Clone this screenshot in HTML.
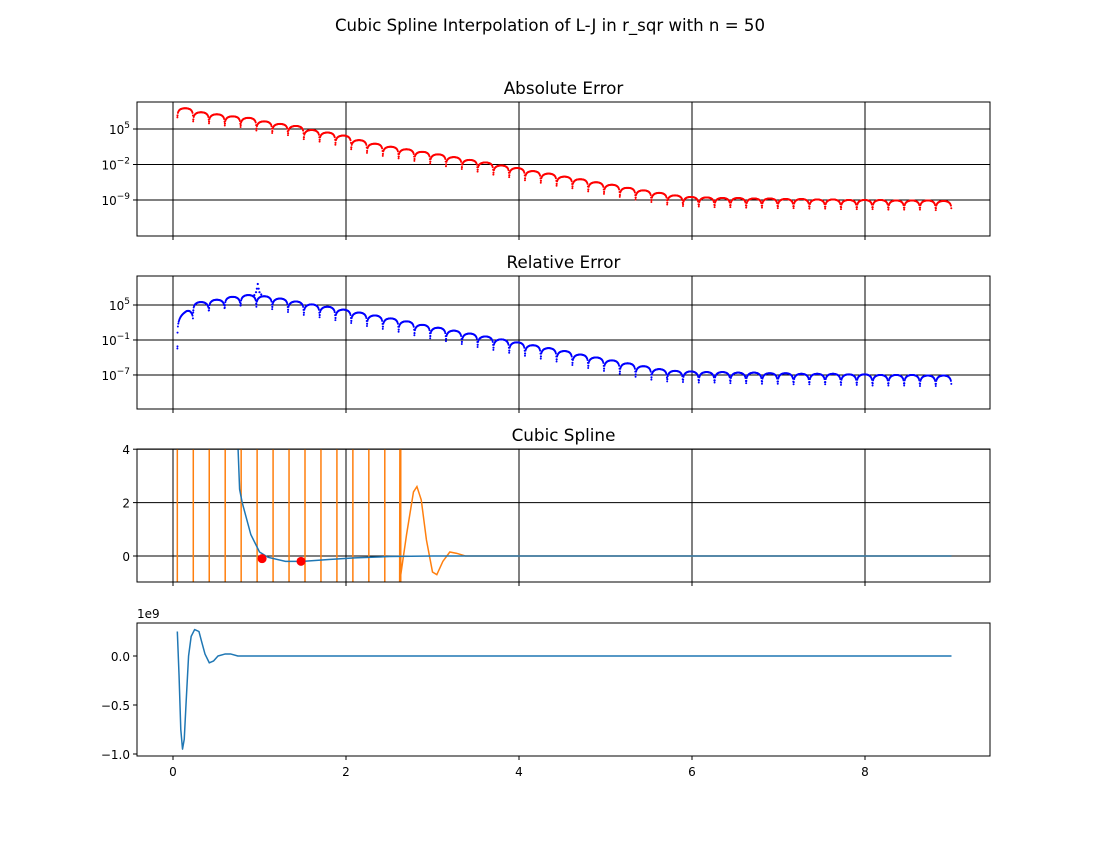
<!DOCTYPE html>
<html><head><meta charset="utf-8"><style>
body{margin:0;background:#fff;font-family:"Liberation Sans","DejaVu Sans",sans-serif}
svg text{font-family:"DejaVu Sans","Liberation Sans",sans-serif}
</style></head><body>
<svg id="c" width="1100" height="850" xmlns="http://www.w3.org/2000/svg">
<rect width="1100" height="850" fill="#fff"/>
<text x="550" y="31" text-anchor="middle" font-size="16.6">Cubic Spline Interpolation of L-J in r_sqr with n = 50</text>
</svg>
<script>
// ---- data ----
const xTicks=[0,2,4,6,8];
const absPeaks=[9.1,8.3,7.9,7.5,7.2,6.5,6.0,5.6,4.8,4.3,3.7,2.8,2.1,1.5,1.0,0.5,0.0,-0.55,-1.1,-1.6,-2.2,-2.7,-3.3,-3.8,-4.4,-4.9,-5.5,-6.0,-6.6,-7.1,-7.6,-8.1,-8.4,-8.5,-8.6,-8.6,-8.7,-8.7,-8.8,-8.8,-8.9,-8.9,-9.0,-9.0,-9.0,-9.1,-9.1,-9.1,-9.2];
const relPeaks=[4.0,5.5,5.9,6.4,6.7,6.5,6.1,5.6,5.1,4.7,4.2,3.7,3.2,2.7,2.2,1.6,1.1,0.6,0.1,-0.4,-0.9,-1.4,-1.9,-2.4,-2.9,-3.5,-4.0,-4.5,-5.0,-5.5,-6.0,-6.3,-6.4,-6.5,-6.5,-6.6,-6.6,-6.7,-6.7,-6.8,-6.8,-6.8,-6.9,-6.9,-7.0,-7.0,-7.0,-7.1,-7.1];
const spikeX=[0.94,0.96,0.97,0.98,0.99,1.0,1.02];
const spikeY=[6.7,7.2,7.8,8.6,7.8,7.2,6.8];
const splineX=[0.75,0.77,0.8,0.9,1.0,1.1,1.3,1.5,1.8,2.1,2.5,3.0,4,6,8,9];
const splineY=[4.2,2.5,2.0,0.8,0.15,-0.05,-0.2,-0.2,-0.13,-0.07,-0.02,0,0,0,0,0];
const orangeX=[2.62,2.7,2.78,2.82,2.87,2.93,3.0,3.05,3.12,3.2,3.28,3.38,3.5,4,6,8,9];
const orangeY=[-1,0.8,2.4,2.6,2.1,0.6,-0.6,-0.7,-0.2,0.15,0.1,0.0,0,0,0,0,0];
const redX=[1.03,1.48];
const redY=[-0.1,-0.2];
const bottomX=[0.05,0.07,0.09,0.11,0.13,0.15,0.18,0.21,0.25,0.3,0.33,0.37,0.42,0.47,0.52,0.6,0.67,0.75,0.85,1.0,1.5,3,6,9];
const bottomY=[0.25,-0.2,-0.75,-0.95,-0.85,-0.5,0.0,0.2,0.27,0.25,0.15,0.02,-0.07,-0.05,0.0,0.02,0.02,0.0,0.0,0.0,0,0,0,0];
// ---- scales ----
const X0=137,X1=990;
const xs=v=>173+v*86.5;
const ns="http://www.w3.org/2000/svg";
const svg=document.getElementById('c');
function mk(tag,attrs,parent){const e=document.createElementNS(ns,tag);for(const k in attrs)e.setAttribute(k,attrs[k]);(parent||svg).appendChild(e);return e;}
const panels=[
 {top:102,bot:236,ys:v=>129-(v-5)*5.07,ticks:[5,-2,-9],title:'Absolute Error',name:'absolute-error'},
 {top:276,bot:409,ys:v=>305-(v-5)*5.83,ticks:[5,-1,-7],title:'Relative Error',name:'relative-error'},
 {top:449,bot:582,ys:v=>556-v*26.7,ticks:[4,2,0],lin:true,title:'Cubic Spline',name:'cubic-spline'},
 {top:623,bot:756,ys:v=>656-v*98,ticks:[0,-0.5,-1.0],lin:true,name:'bottom-panel'}
];
panels.forEach((p,pi)=>{
 const g=mk('g',{});
 
 
 const cid='clip'+pi;
 const cp=mk('clipPath',{id:cid},g);mk('rect',{x:X0,y:p.top,width:X1-X0,height:p.bot-p.top},cp);
 if(p.title){const t=mk('text',{x:(X0+X1)/2,y:p.top-8,'text-anchor':'middle','font-size':16.8},g);t.textContent=p.title;
  }
 if(pi<3){
  xTicks.forEach(v=>{const l=mk('line',{x1:xs(v),x2:xs(v),y1:p.top,y2:p.bot,stroke:'#000','stroke-width':1},g);});
  p.ticks.forEach(v=>{const l=mk('line',{x1:X0,x2:X1,y1:p.ys(v),y2:p.ys(v),stroke:'#000','stroke-width':1},g);});
 }
 xTicks.forEach(v=>mk('line',{x1:xs(v),x2:xs(v),y1:p.bot,y2:p.bot+4,stroke:'#000'},g));
 p.ticks.forEach(v=>{
  mk('line',{x1:X0-4,x2:X0,y1:p.ys(v),y2:p.ys(v),stroke:'#000'},g);
  const t=mk('text',{x:X0-7,y:p.ys(v)+5,'text-anchor':'end','font-size':12},g);
  
  if(p.lin){t.textContent=pi==3?(v==0?'0.0':(v<0?'\u2212':'')+Math.abs(v).toFixed(1)):String(v);}
  else{t.textContent='10';const s=mk('tspan',{dy:-6,'font-size':9},t);s.textContent=(v<0?'\u2212':'')+Math.abs(v);}
 });
 const d=mk('g',{'clip-path':`url(#${cid})`},g);
 if(pi<2){
  const peaks=pi==0?absPeaks:relPeaks;const col=pi==0?'#ff0000':'#0000ff';
  const h=(9-0.05)/peaks.length;
  peaks.forEach((pk,i)=>{
   const n=40;
   for(let j=0;j<n;j++){const t=(j+0.5)/n;const x=0.05+(i+t)*h;
    let v;
    if(pi==1&&i==0) v=pk+2.2*Math.log10(Math.min(1,t*1.6))+1.0*Math.log10(Math.min(1,4*(1-t)));
    else v=pk+1.1*Math.log10(4*t*(1-t));
    mk('circle',{cx:xs(x),cy:p.ys(v),r:1,fill:col},d);}
   [0.004,0.01].forEach(t=>{const x=0.05+(i+t)*h;
    const v=(pi==1&&i==0)?pk-6.7+t*60:pk+1.0*Math.log10(4*t*(1-t));
    mk('circle',{cx:xs(x),cy:p.ys(v),r:1,fill:col},d);});
  });
  if(pi==1) spikeX.forEach((x,i)=>mk('circle',{cx:xs(x),cy:p.ys(spikeY[i]),r:1.1,fill:col},d));
 }
 if(pi==2){
  let pts=[];const h=0.1845;
  for(let k=0;k<15;k++){const x=0.05+k*h;pts.push([xs(x),k%2?-10:600]);pts.push([xs(x),k%2?600:-10]);}
  orangeX.forEach((x,i)=>pts.push([xs(x),p.ys(orangeY[i])]));
  const o=mk('polyline',{points:pts.map(q=>q.join(',')).join(' '),fill:'none',stroke:'#ff7f0e','stroke-width':1.5},d);
  
  const b=mk('polyline',{points:splineX.map((x,i)=>xs(x)+','+p.ys(splineY[i])).join(' '),fill:'none',stroke:'#1f77b4','stroke-width':1.5},d);
  
  redX.forEach((x,i)=>{const c=mk('circle',{cx:xs(x),cy:p.ys(redY[i]),r:4.5,fill:'#ff0000'},d);});
 }
 if(pi==3){
  const b=mk('polyline',{points:bottomX.map((x,i)=>xs(x)+','+p.ys(bottomY[i])).join(' '),fill:'none',stroke:'#1f77b4','stroke-width':1.5,'stroke-linejoin':'round'},d);
  
  const e=mk('text',{x:X0,y:p.top-5,'font-size':12},g);e.textContent='1e9';
  
  xTicks.forEach(v=>{const t=mk('text',{x:xs(v),y:p.bot+20,'text-anchor':'middle','font-size':12},g);t.textContent=v;
   });
 }
 mk('rect',{x:X0,y:p.top,width:X1-X0,height:p.bot-p.top,fill:'none',stroke:'#000','stroke-width':1},g);
});
</script>
</body></html>
